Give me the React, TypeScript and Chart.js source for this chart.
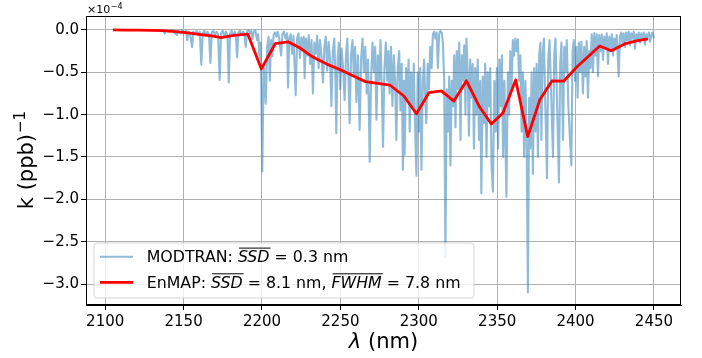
import React, { useEffect, useRef } from "react";
import { Chart, registerables } from "chart.js";

Chart.register(...registerables);

// ---------- axis definitions ----------
const X_TICKS = [2100, 2150, 2200, 2250, 2300, 2350, 2400, 2450];
const Y_TICKS = [0, -0.5, -1.0, -1.5, -2.0, -2.5, -3.0];
const X_MIN = 2087.75;
const X_MAX = 2467.25;
const Y_MIN = -3.248;
const Y_MAX = 0.165;

// ---------- EnMAP (values in units of 1e-4) ----------
const ENMAP_WL = [2105, 2113, 2121, 2129, 2137, 2145, 2153, 2161, 2168, 2174, 2182, 2191, 2199.6, 2208.5, 2216.6, 2224, 2232.5, 2241, 2250, 2258, 2266, 2274, 2281.5, 2290.5, 2298.5, 2306.5, 2314.4, 2322.4, 2330.4, 2338.8, 2346.3, 2353.7, 2361.8, 2369.5, 2377.3, 2385, 2392.4, 2400.1, 2407.7, 2415.4, 2422.8, 2431.3, 2438.8, 2446.2];
const ENMAP_K = [0, -0.001, -0.002, -0.004, -0.008, -0.02, -0.035, -0.055, -0.07, -0.09, -0.065, -0.05, -0.46, -0.16, -0.14, -0.21, -0.32, -0.40, -0.47, -0.54, -0.61, -0.63, -0.65, -0.78, -0.99, -0.74, -0.72, -0.84, -0.60, -0.91, -1.11, -0.98, -0.59, -1.26, -0.82, -0.60, -0.605, -0.45, -0.32, -0.19, -0.245, -0.165, -0.13, -0.106];

// ---------- MODTRAN (wavelength nm, k in units of 1e-4) ----------
const MODTRAN_A = [
  [2105, 0], [2135, 0], [2137, -0.01], [2138, -0.04], [2139, -0.005], [2141, -0.02], [2142.5, -0.005], [2144, -0.03], [2145.8, -0.06], [2146.6, -0.01], [2148, -0.04], [2149, -0.005], [2150.5, -0.03], [2151.5, -0.01], [2152.3, -0.12], [2153.1, -0.02], [2154, -0.04], [2155.4, -0.2], [2156.2, -0.02], [2157.3, -0.05], [2158.3, -0.01], [2159.3, -0.06], [2160.3, -0.02], [2161.3, -0.41], [2162.2, -0.04], [2163.2, -0.01], [2164.2, -0.07], [2165.2, -0.02], [2166.2, -0.05], [2167.1, -0.39], [2168, -0.03], [2169, -0.01], [2170, -0.06], [2171, -0.02], [2172, -0.05], [2173, -0.59], [2173.9, -0.04], [2175, -0.01], [2176, -0.08], [2177, -0.02], [2178, -0.06], [2178.8, -0.62], [2179.6, -0.05], [2180.6, -0.01], [2181.6, -0.07], [2182.6, -0.02], [2183.4, -0.09], [2184.1, -0.32], [2185, -0.03], [2186, -0.01], [2187, -0.06], [2188, -0.02], [2188.8, -0.05], [2189.6, -0.2], [2190.5, -0.02], [2191.5, -0.005], [2192.5, -0.04], [2193.2, -0.01], [2193.9, -0.11], [2194.8, -0.02], [2195.8, -0.005], [2196.8, -0.12], [2197.6, -0.05], [2198.4, -0.32], [2199.2, -0.15], [2200.2, -1.67], [2201.1, -0.4], [2202.4, -0.87], [2203.3, -0.2], [2204.2, -0.08], [2205, -0.6], [2205.8, -0.12], [2206.6, -0.31], [2207.4, -0.06], [2208.3, -0.03], [2209.2, -0.08], [2210, -0.02], [2211, -0.1], [2212.2, -0.3], [2213, -0.05], [2214, -0.02], [2215, -0.1], [2216, -0.04], [2216.6, -0.68], [2217.4, -0.1],
];
const MODTRAN_B = [
  [2218.3, -0.05], [2219.2, -0.28], [2220.1, -0.07], [2221.5, -0.77], [2222.4, -0.1], [2223.3, -0.04], [2224.2, -0.33], [2225.1, -0.09], [2226, -0.22], [2226.6, -0.08], [2227.2, -0.57], [2228, -0.1], [2229, -0.3], [2229.8, -0.06], [2230.7, -0.4], [2231.6, -0.12], [2232.5, -0.75], [2233.4, -0.15], [2234.3, -0.28], [2235.2, -0.07], [2236.1, -0.45], [2237, -0.12], [2237.9, -0.3], [2238.9, -0.62], [2239.8, -0.2], [2240.7, -0.08], [2241.6, -0.48], [2242.5, -0.14], [2243.4, -0.35], [2244.3, -0.9], [2245.2, -0.25], [2246.1, -0.1], [2246.8, -0.55], [2247.4, -1.22], [2248.2, -0.35], [2249, -0.15], [2249.9, -0.7], [2250.8, -0.22], [2251.7, -0.45], [2252.7, -0.83], [2253.6, -0.3], [2254.4, -0.1], [2255.2, -0.6], [2255.9, -1.1], [2256.8, -0.3], [2257.7, -0.12], [2258.6, -0.55], [2259.4, -0.2], [2260.2, -0.85], [2261.2, -0.3], [2262.3, -1.18], [2263.2, -0.35], [2264.1, -0.1], [2265, -0.5], [2265.9, -0.2], [2266.8, -0.75], [2267.6, -0.35], [2268.7, -1.56], [2269.6, -0.55], [2270.5, -0.15], [2271.4, -0.5], [2272.2, -0.2], [2273, -1.06], [2273.9, -0.3], [2274.8, -0.6], [2275.6, -0.12], [2276.4, -0.7], [2277.2, -1.38], [2278.1, -0.45], [2279, -0.15], [2279.9, -0.6], [2280.6, -0.25], [2281.4, -0.75], [2282.3, -0.2], [2283.2, -0.9], [2284.1, -0.3], [2284.9, -0.6], [2285.7, -1.3], [2286.6, -0.45], [2287.5, -0.25], [2288.3, -0.95], [2289.1, -0.4], [2289.9, -1.65], [2290.5, -0.6], [2291, -1.47], [2291.9, -0.45], [2292.8, -0.8], [2293.5, -0.35], [2294.2, -1.2], [2295.1, -0.5], [2296, -0.9], [2296.8, -0.4], [2297.6, -1.1], [2298.5, -1.72], [2299.3, -0.5], [2300.1, -1.2], [2300.9, -0.45], [2301.7, -1.65], [2302.6, -0.6], [2303.4, -0.35], [2304.1, -0.8], [2304.8, -1.1], [2305.7, -0.4], [2306.5, -0.7], [2307.3, -0.2], [2308.2, -0.45], [2309, -0.05], [2309.8, -0.02], [2310.6, -0.1], [2311.4, -0.03], [2312.2, -0.45], [2313, -0.05], [2313.8, -0.01], [2314.6, -0.03], [2315.4, -0.15], [2316.2, -0.6], [2317, -2.68], [2317.8, -0.7],
];
const MODTRAN_C = [
  [2318.6, -1.2], [2319.4, -0.55], [2320.2, -1.6], [2321, -0.6], [2321.8, -0.9], [2322.6, -0.3], [2323.4, -1.15], [2324.2, -0.25], [2325, -0.7], [2325.8, -0.15], [2326.6, -1.3], [2327.4, -0.3], [2328.2, -0.6], [2329, -0.18], [2329.8, -1.0], [2330.4, -0.1], [2331.2, -0.5], [2332, -1.25], [2332.8, -0.35], [2333.6, -0.8], [2334.4, -0.4], [2335.2, -1.4], [2336, -0.45], [2336.8, -1.0], [2337.6, -0.35], [2338.4, -1.3], [2339.2, -0.6], [2339.9, -1.93], [2340.8, -0.55], [2341.6, -1.1], [2342.4, -0.4], [2343.2, -1.5], [2344, -0.5], [2344.8, -0.9], [2345.6, -0.45], [2346.4, -1.6], [2347.3, -1.91], [2348.2, -0.6], [2349, -1.2], [2349.8, -0.45], [2350.6, -1.4], [2351.4, -0.35], [2352.2, -0.9], [2353, -0.3], [2353.8, -1.5], [2354.6, -0.6], [2355.9, -1.97], [2356.8, -0.5], [2357.6, -1.0], [2358.4, -0.25], [2359.2, -0.7], [2360, -0.12], [2360.8, -0.3], [2361.6, -0.1], [2362.4, -0.25], [2363.2, -0.11], [2364, -0.6], [2364.8, -0.3], [2365.6, -1.2], [2366.4, -0.5], [2367.2, -1.5], [2368, -0.6], [2368.8, -1.3], [2369.6, -3.1], [2370.4, -0.8], [2371.2, -1.4], [2372, -0.5], [2372.8, -1.7], [2373.6, -0.45], [2374.4, -1.2], [2375.2, -0.4], [2376, -1.5], [2376.8, -0.3],
];
const MODTRAN_D = [
  [2377.6, -0.15], [2378.2, -1.3], [2379, -0.3], [2379.8, -0.1], [2380.6, -0.8], [2381.8, -1.75], [2382.6, -0.35], [2383.4, -0.12], [2384.2, -0.6], [2385.6, -1.5], [2386.4, -0.3], [2387.2, -0.1], [2388, -0.7], [2389.4, -1.8], [2390.2, -0.4], [2391, -0.15], [2392, -1.3], [2392.8, -0.2], [2393.6, -0.5], [2394.4, -0.12], [2395.4, -0.9], [2396.2, -1.2], [2397.3, -1.6], [2398.1, -0.25], [2398.9, -0.12], [2399.7, -0.6], [2400.5, -0.2], [2401.3, -0.8], [2402.1, -0.15], [2402.9, -0.5], [2403.7, -0.14], [2404.7, -0.75], [2405.5, -0.2], [2406.3, -0.55], [2407.1, -0.13], [2407.9, -0.8], [2408.7, -0.25], [2409.5, -0.45], [2410.3, -0.05], [2411.1, -0.5], [2411.9, -0.04], [2412.7, -0.3], [2413.5, -0.05], [2414.3, -0.55], [2415.1, -0.06], [2415.9, -0.25], [2416.7, -0.05], [2417.5, -0.35], [2418.3, -0.08], [2419.1, -0.2], [2419.9, -0.04], [2420.7, -0.4], [2421.5, -0.08], [2422.3, -0.25], [2423.1, -0.05], [2423.9, -0.3], [2424.7, -0.1], [2425.5, -0.2], [2426.3, -0.06], [2427.5, -0.55], [2428.3, -0.08], [2429.1, -0.03], [2429.9, -0.15], [2430.7, -0.04], [2431.5, -0.2], [2432.3, -0.03], [2433.1, -0.12], [2433.9, -0.02], [2434.7, -0.18], [2435.5, -0.04], [2436.3, -0.1], [2437.1, -0.02], [2437.9, -0.22], [2438.7, -0.05], [2439.5, -0.12], [2440.3, -0.03], [2441.1, -0.15], [2441.9, -0.04], [2442.7, -0.1], [2443.5, -0.03], [2444.3, -0.17], [2445.1, -0.05], [2445.9, -0.08], [2446.7, -0.03], [2447.5, -0.14], [2448.3, -0.06], [2449.1, -0.03], [2450, -0.1],
];

// ---------- text ----------
const FONT = "'DejaVu Sans', 'Liberation Sans', sans-serif";
const LEGEND_ROWS = [
  { color: "rgba(31,119,180,0.5)", width: 2.1, parts: [["MODTRAN: ", false], ["SSD", true], [" = 0.3 nm", false]] },
  { color: "#ff0000", width: 2.8, parts: [["EnMAP: ", false], ["SSD", true], [" = 8.1 nm, ", false], ["FWHM", true], [" = 7.8 nm", false]] },
];

const fmtY = (v: number) => (v < 0 ? "\u2212" : "") + Math.abs(v).toFixed(1);

const decorPlugin = {
  id: "decor",
  afterDatasetsDraw(chart: any) {
    const { ctx, chartArea: a } = chart;
    ctx.save();
    // spines
    ctx.strokeStyle = "#000";
    ctx.lineWidth = 1;
    ctx.strokeRect(Math.round(a.left) + 0.5, Math.round(a.top) + 0.5, Math.round(a.right - a.left) - 1, Math.round(a.bottom - a.top) - 1);

    // legend
    const lx0 = 94, ly0 = 243, lx1 = 474, ly1 = 298, r = 3;
    ctx.beginPath();
    ctx.moveTo(lx0 + r, ly0);
    ctx.arcTo(lx1, ly0, lx1, ly1, r);
    ctx.arcTo(lx1, ly1, lx0, ly1, r);
    ctx.arcTo(lx0, ly1, lx0, ly0, r);
    ctx.arcTo(lx0, ly0, lx1, ly0, r);
    ctx.closePath();
    ctx.fillStyle = "rgba(255,255,255,0.8)";
    ctx.fill();
    ctx.strokeStyle = "rgba(204,204,204,0.8)";
    ctx.lineWidth = 1;
    ctx.stroke();

    const baselines = [262.3, 288];
    LEGEND_ROWS.forEach((row, i) => {
      const bl = baselines[i];
      const ly = bl - 5.6;
      ctx.beginPath();
      ctx.strokeStyle = row.color;
      ctx.lineWidth = row.width;
      ctx.moveTo(100, ly);
      ctx.lineTo(133, ly);
      ctx.stroke();
      let x = 146.7;
      ctx.fillStyle = "#000";
      ctx.textBaseline = "alphabetic";
      ctx.textAlign = "left";
      (row.parts as any[]).forEach(([txt, it]) => {
        ctx.font = `${it ? "italic " : ""}15.8px ${FONT}`;
        const w = ctx.measureText(txt).width;
        ctx.fillText(txt, x, bl);
        if (it) {
          ctx.beginPath();
          ctx.strokeStyle = "#000";
          ctx.lineWidth = 1;
          ctx.moveTo(x + 1, bl - 14.2);
          ctx.lineTo(x + w + 1, bl - 14.2);
          ctx.stroke();
        }
        x += w;
      });
    });
    ctx.restore();
  },
  afterDraw(chart: any) {
    const { ctx, chartArea: a } = chart;
    ctx.save();
    ctx.fillStyle = "#000";
    ctx.textBaseline = "alphabetic";
    ctx.textAlign = "left";
    // x label
    ctx.font = `italic 21px ${FONT}`;
    const wl = ctx.measureText("\u03bb").width;
    ctx.font = `21px ${FONT}`;
    const wr = ctx.measureText(" (nm)").width;
    const cx = (a.left + a.right) / 2;
    let x = cx - (wl + wr) / 2;
    ctx.font = `italic 21px ${FONT}`;
    ctx.fillText("\u03bb", x, 348);
    ctx.font = `21px ${FONT}`;
    ctx.fillText(" (nm)", x + wl, 348);

    // y label
    ctx.save();
    ctx.translate(33, (a.top + a.bottom) / 2);
    ctx.rotate(-Math.PI / 2);
    ctx.font = `21px ${FONT}`;
    const w1 = ctx.measureText("k (ppb)").width;
    ctx.font = `15px ${FONT}`;
    const w2 = ctx.measureText("\u22121").width;
    const sx = -(w1 + w2) / 2;
    ctx.font = `21px ${FONT}`;
    ctx.fillText("k (ppb)", sx, 0);
    ctx.font = `15px ${FONT}`;
    ctx.fillText("\u22121", sx + w1 + 1, -8);
    ctx.restore();

    // offset text
    ctx.font = `11px ${FONT}`;
    ctx.fillText("\u00d710", 87, 13.3);
    const wo = ctx.measureText("\u00d710").width;
    ctx.font = `8px ${FONT}`;
    ctx.fillText("\u22124", 87 + wo + 0.5, 8.5);
    ctx.restore();
  },
};

export default function App() {
  const ref = useRef<HTMLCanvasElement>(null);
  useEffect(() => {
    document.body.style.margin = "0";
    const canvas = ref.current!;
    const modtran = [...MODTRAN_A, ...MODTRAN_B, ...MODTRAN_C, ...MODTRAN_D].map(([x, y]) => ({ x, y }));
    const enmap = ENMAP_WL.map((x, i) => ({ x, y: ENMAP_K[i] }));
    const chart = new Chart(canvas, {
      type: "line",
      data: {
        datasets: [
          {
            label: "EnMAP",
            data: enmap,
            borderColor: "#ff0000",
            borderWidth: 2.8,
            pointRadius: 0,
            borderJoinStyle: "round",
            tension: 0,
            order: 0,
          },
          {
            label: "MODTRAN",
            data: modtran,
            borderColor: "rgba(31,119,180,0.5)",
            borderWidth: 2.1,
            pointRadius: 0,
            borderJoinStyle: "round",
            tension: 0,
            order: 1,
          },
        ],
      },
      options: {
        responsive: false,
        devicePixelRatio: 1,
        animation: false,
        events: [],
        layout: { padding: { left: 0, right: 21, top: 16, bottom: 0 } },
        plugins: { legend: { display: false }, tooltip: { enabled: false } },
        scales: {
          x: {
            type: "linear",
            min: X_MIN,
            max: X_MAX,
            afterBuildTicks: (s: any) => { s.ticks = X_TICKS.map((v) => ({ value: v })); },
            afterFit: (s: any) => { s.height = 53; },
            grid: { color: "#b0b0b0", lineWidth: 1, tickLength: 5, tickColor: "#000", drawTicks: true },
            border: { display: true, color: "#000", width: 1 },
            ticks: { color: "#000", font: { family: FONT, size: 15 }, padding: 3, maxRotation: 0, autoSkip: false, callback: (v: any) => String(v) },
          },
          y: {
            type: "linear",
            min: Y_MIN,
            max: Y_MAX,
            afterBuildTicks: (s: any) => { s.ticks = Y_TICKS.map((v) => ({ value: v })); },
            afterFit: (s: any) => { s.width = 86; },
            grid: { color: "#b0b0b0", lineWidth: 1, tickLength: 5, tickColor: "#000", drawTicks: true },
            border: { display: true, color: "#000", width: 1 },
            ticks: { color: "#000", font: { family: FONT, size: 15 }, padding: 2, autoSkip: false, callback: (v: any) => fmtY(Number(v)) },
          },
        },
      },
      plugins: [decorPlugin],
    } as any);
    return () => chart.destroy();
  }, []);
  return (
    <div style={{ position: "fixed", left: 0, top: 0, width: 702, height: 358, background: "#fff" }}>
      <canvas ref={ref} width={702} height={358} style={{ display: "block", width: 702, height: 358 }} />
    </div>
  );
}
